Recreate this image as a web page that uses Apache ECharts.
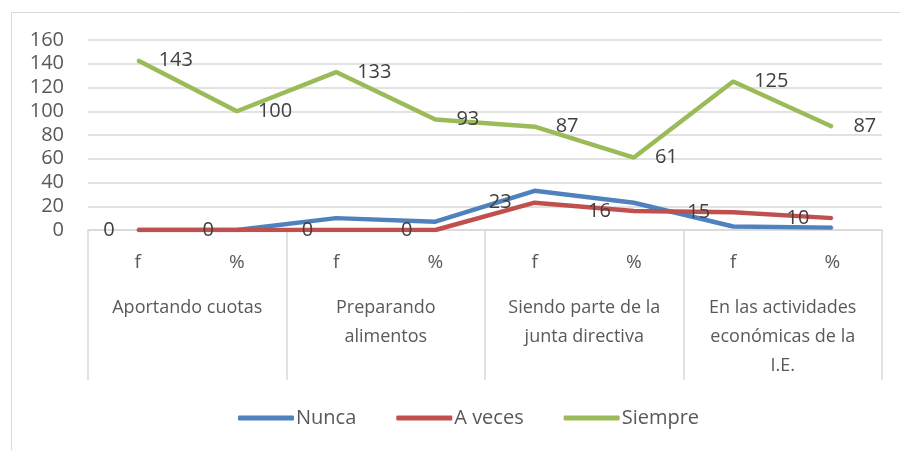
<!DOCTYPE html>
<html>
<head>
<meta charset="utf-8">
<script src="https://cdn.jsdelivr.net/npm/echarts@6/dist/echarts.min.js"></script>
<style>
  html, body { margin: 0; padding: 0; background: #fff; }
  #chart { width: 900px; height: 450px; }
</style>
</head>
<body>
<div id="chart"></div>
<script>
// categorias (f / % por cada actividad)
var subCategories = ['f', '%', 'f', '%', 'f', '%', 'f', '%'];
var groupLabels = ['Aportando cuotas', 'Preparando\nalimentos', 'Siendo parte de la\njunta directiva', 'En las actividades\neconómicas de la\nI.E.'];
var yTicks = [0, 20, 40, 60, 80, 100, 120, 140, 160];

// series
var nunca = [0, 0, 10, 7, 33, 23, 3, 2];
var aVeces = [0, 0, 0, 0, 23, 16, 15, 10];
var siempre = [143, 100, 133, 93, 87, 61, 125, 87];

var fontFam = '"Open Sans", "Noto Sans", sans-serif';
var myChart = echarts.init(document.getElementById('chart'));

function lineSerie(name, data, color, label) {
    return {
        name: name,
        type: 'line',
        data: data,
        symbol: 'circle',
        symbolSize: 2,
        showSymbol: true,
        showAllSymbol: true,
        color: color,
        itemStyle: { color: color },
        lineStyle: { width: 4.5, color: color },
        label: label,
        labelLayout: { hideOverlap: false },
        emphasis: { disabled: true }
    };
}

var option = {
    backgroundColor: '#ffffff',
    textStyle: { fontFamily: fontFam },
    graphic: [{
        type: 'rect',
        shape: { x: 11.5, y: 12.5, width: 1000, height: 1000 },
        style: { fill: 'none', stroke: '#d9d9d9', lineWidth: 1 },
        silent: true
    }],
    grid: { left: 88, right: 18, top: 40, bottom: 220 },
    legend: {
        bottom: 17,
        left: 233,
        itemWidth: 56,
        itemHeight: 5,
        itemGap: 40,
        icon: 'roundRect',
        textStyle: { fontSize: 20, color: '#595959', fontFamily: fontFam, padding: [0, 0, 0, -3] },
        data: ['Nunca', 'A veces', 'Siempre']
    },
    xAxis: [
        {
            type: 'category',
            position: 'bottom',
            data: subCategories,
            axisLine: { lineStyle: { color: '#d9d9d9', width: 1.5 } },
            axisTick: { show: false },
            axisLabel: { margin: 23, fontSize: 19, color: '#595959', fontFamily: fontFam },
            splitLine: { show: false }
        },
        {
            type: 'category',
            position: 'bottom',
            offset: 0,
            data: groupLabels,
            axisLine: { show: false },
            axisTick: { show: true, length: 150, lineStyle: { color: '#d9d9d9', width: 1.5 } },
            axisLabel: { margin: 63, fontSize: 18, lineHeight: 29, color: '#595959', fontFamily: fontFam, interval: 0 },
            splitLine: { show: false }
        }
    ],
    yAxis: {
        type: 'value',
        min: yTicks[0],
        max: yTicks[yTicks.length - 1],
        interval: 20,
        axisLine: { show: false },
        axisTick: { show: false },
        axisLabel: { margin: 24, fontSize: 20, color: '#595959', fontFamily: fontFam },
        splitLine: { lineStyle: { color: '#d9d9d9', width: 1.5 } }
    },
    series: [
        lineSerie('Nunca', nunca, '#4f81bd', { show: false }),
        lineSerie('A veces', aVeces, '#c0504d',
            { show: true, position: 'left', distance: 22, offset: [0, 2], fontSize: 20, color: '#404040', fontFamily: fontFam }),
        lineSerie('Siempre', siempre, '#9bbb59',
            { show: true, position: 'right', distance: 20, offset: [0, 3], fontSize: 20, color: '#404040', fontFamily: fontFam })
    ]
};
myChart.setOption(option);
</script>
</body>
</html>
